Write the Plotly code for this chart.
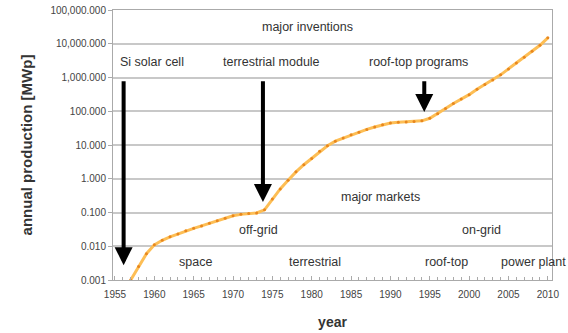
import plotly.graph_objects as go

# ---- data ----
years = list(range(1957, 2011))
production_mwp = [
    0.001, 0.0025, 0.006, 0.011, 0.015, 0.019, 0.023, 0.029, 0.034, 0.040,
    0.048, 0.057, 0.068, 0.080, 0.088, 0.093, 0.097, 0.12, 0.25, 0.5,
    0.9, 1.6, 2.6, 4.0, 6.5, 9.5, 13, 16, 20, 24,
    29, 34, 40, 45, 47, 48, 50, 52, 62, 85,
    120, 170, 230, 310, 450, 620, 850, 1200, 1800, 2700,
    4000, 6000, 9000, 15000,
]

x_tick_years = [1955, 1960, 1965, 1970, 1975, 1980, 1985, 1990, 1995, 2000, 2005, 2010]
y_tick_values = [0.001, 0.01, 0.1, 1, 10, 100, 1000, 10000, 100000]
y_tick_labels = ["0.001", "0.010", "0.100", "1.000", "10.000", "100.000",
                 "1,000.000", "10,000.000", "100,000.000"]

# labels: (text, year, log10 value)
label_texts = ["major inventions", "Si solar cell", "terrestrial module", "roof-top programs",
               "major markets", "off-grid", "on-grid",
               "space", "terrestrial", "roof-top", "power plant"]
label_years = [1979.5, 1959.7, 1974.9, 1993.6, 1988.8, 1973.2, 2001.6, 1965.2, 1980.4, 1997.1, 2008.2]
label_logs = [4.5, 3.46, 3.46, 3.46, -0.54, -1.52, -1.52, -2.47, -2.47, -2.47, -2.47]

# arrows: (year, start log10, tip log10)
arrow_years = [1956.1, 1973.8, 1994.3]
arrow_start_logs = [2.93, 2.93, 2.93]
arrow_tip_logs = [-2.56, -0.69, 1.98]

FONT = "Liberation Sans, Arial, sans-serif"

fig = go.Figure()
fig.add_trace(go.Scatter(
    x=years, y=production_mwp, mode="lines+markers",
    line=dict(color="#FDBE55", width=3),
    marker=dict(color="#E8871E", size=3),
    showlegend=False, hoverinfo="skip",
))

annotations = []
for t, xv, lv in zip(label_texts, label_years, label_logs):
    annotations.append(dict(x=xv, y=lv, xref="x", yref="y", text=t, showarrow=False,
                            font=dict(family=FONT, size=12.5, color="#333333")))
for xv, s, e in zip(arrow_years, arrow_start_logs, arrow_tip_logs):
    annotations.append(dict(x=xv, y=e, ax=xv, ay=s, xref="x", yref="y", axref="x", ayref="y",
                            text="", showarrow=True, arrowhead=2, arrowsize=0.9,
                            arrowwidth=4, arrowcolor="#000000", standoff=0))

fig.update_layout(
    width=568, height=333,
    margin=dict(l=113, r=16, t=10, b=53),
    paper_bgcolor="white", plot_bgcolor="white",
    font=dict(family=FONT, color="#333333"),
    annotations=annotations,
)
fig.update_xaxes(
    range=[1954.75, 2010.53], tickvals=x_tick_years, ticktext=[str(v) for v in x_tick_years],
    tickfont=dict(size=10, color="#444444"), showgrid=False, ticklabelstandoff=5,
    showline=True, linecolor="#aaaaaa", linewidth=1, mirror=True, automargin=False,
    ticks="inside", ticklen=4, tickcolor="#aaaaaa",
    minor=dict(dtick=1, ticks="inside", ticklen=3, tickcolor="#aaaaaa"),
    title=dict(text="<b>year</b>", font=dict(size=14, color="#333333"), standoff=18),
)
fig.update_yaxes(
    type="log", range=[-3, 5], tickvals=y_tick_values, ticktext=y_tick_labels,
    tickfont=dict(size=10, color="#444444"), automargin=False,
    showgrid=True, gridcolor="#c8c8c8", gridwidth=2,
    showline=True, linecolor="#aaaaaa", linewidth=1, mirror=True,
    ticks="outside", ticklen=4, tickcolor="#aaaaaa",
    title=dict(text="<b>annual production [MWp]</b>", font=dict(size=15, color="#333333"), standoff=14),
)

fig.write_html("out.html")
